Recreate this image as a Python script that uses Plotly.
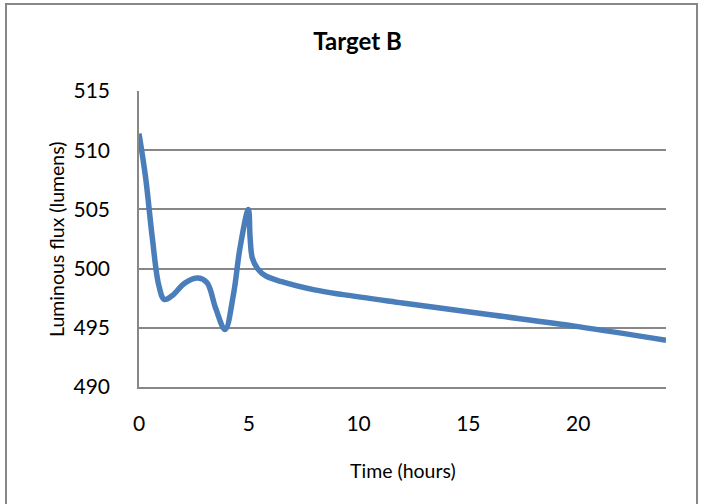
import plotly.graph_objects as go

time_h = [0, 0.3, 0.6, 0.9, 1.15, 1.5, 2.1, 2.7, 3.1, 3.5, 3.92, 4.3, 4.6, 4.98,
          5.06, 5.16, 5.4, 5.75, 6.5, 8.0, 9.3, 12, 16, 20, 24]
flux = [511.4, 507.7, 502.7, 498.6, 497.4, 497.7, 498.8, 499.2, 498.8, 496.6, 494.85,
        497.8, 501.75, 505.0, 502.6, 500.9, 500.0, 499.4, 498.9, 498.2, 497.8, 497.1,
        496.1, 495.1, 493.95]

x_ticks = [0, 5, 10, 15, 20]
y_ticks = [490, 495, 500, 505, 510, 515]

FONT = "Lato, 'Liberation Sans', sans-serif"
W, H = 703, 504
L, R, T, B = 139, 666, 91, 387
pw, ph = R - L, B - T


def px_x(p):
    return (p - L) / pw


def px_y(p):
    return (B - p) / ph


fig = go.Figure()
fig.add_trace(go.Scatter(
    x=time_h, y=flux, mode="lines",
    line=dict(color="#4A7EBB", width=5.5, shape="spline", smoothing=1.0),
    showlegend=False, hoverinfo="skip"))

fig.update_layout(
    width=W, height=H,
    margin=dict(l=L, r=W - R, t=T, b=H - B),
    paper_bgcolor="white", plot_bgcolor="white",
    font=dict(family=FONT, color="black"),
    title=dict(text="<b>Target B</b>", x=357.5 / W, xanchor="center",
               y=1 - 42 / H, yanchor="middle", font=dict(size=24, family=FONT)),
)
fig.update_xaxes(
    range=[0, 24], tickvals=x_ticks, showgrid=False, zeroline=False,
    showline=True, linecolor="#878787", linewidth=1.5,
    ticks="", tickfont=dict(size=21, family=FONT), ticklabelstandoff=17,
)
fig.update_yaxes(
    range=[490, 515], tickvals=y_ticks, showgrid=True, gridcolor="#878787", gridwidth=1.5,
    zeroline=False, showline=True, linecolor="#878787", linewidth=1.5,
    ticks="", tickfont=dict(size=21, family=FONT), ticklabelstandoff=23,
)

fig.add_annotation(text="Time (hours)", xref="paper", yref="paper",
                   x=px_x(402.5), y=px_y(470), xanchor="center", yanchor="middle",
                   showarrow=False, font=dict(size=19.5, family=FONT))
fig.add_annotation(text="Luminous flux (lumens)", xref="paper", yref="paper",
                   x=px_x(56), y=px_y(240), xanchor="center", yanchor="middle",
                   textangle=-90, showarrow=False, font=dict(size=19.5, family=FONT))

fig.add_shape(type="rect", xref="paper", yref="paper",
              x0=px_x(6), x1=px_x(697), y0=px_y(515), y1=px_y(4),
              line=dict(color="#878787", width=2), fillcolor="rgba(0,0,0,0)", layer="below")

fig.write_html("out.html", config={"displayModeBar": False},
               post_script="document.body.style.margin='0px';")
